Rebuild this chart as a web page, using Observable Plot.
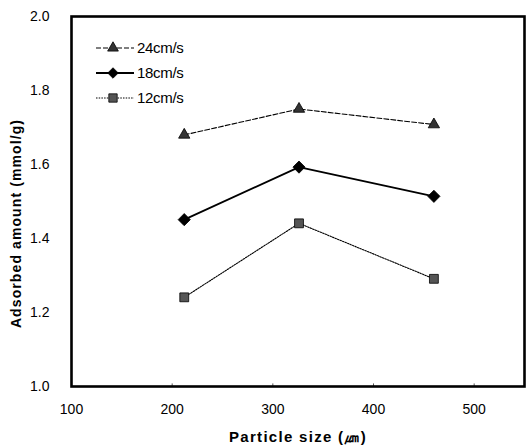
<!DOCTYPE html>
<html>
<head>
<meta charset="utf-8">
<script src="https://cdn.jsdelivr.net/npm/d3@7"></script>
<script src="https://cdn.jsdelivr.net/npm/@observablehq/plot@0.6"></script>
<style>
  html, body { margin: 0; padding: 0; background: #fff; }
  #wrap { position: relative; width: 528px; height: 447px; font-family: "Liberation Sans", Arial, sans-serif; }
  #legend { position: absolute; left: 0; top: 0; }
</style>
</head>
<body>
<div id="wrap"></div>
<script>
const particleSize = [212, 326, 460];
const series = ["24cm/s", "18cm/s", "12cm/s"];
const v24 = [1.68, 1.75, 1.708];
const v18 = [1.451, 1.593, 1.514];
const v12 = [1.241, 1.441, 1.291];
const xTicks = [100, 200, 300, 400, 500];
const yTicks = [1.0, 1.2, 1.4, 1.6, 1.8, 2.0];

const values = {"24cm/s": v24, "18cm/s": v18, "12cm/s": v12};
const data = series.flatMap(s => particleSize.map((x, i) => ({series: s, x, y: values[s][i]})));

const style = {
  "24cm/s": {dash: "5,2", width: 1.1, symbol: "triangle", r: 4.2, fill: "#333", d3sym: d3.symbolTriangle, area: 50},
  "18cm/s": {dash: null, width: 1.8, symbol: "diamond2", r: 5.5, fill: "#000", d3sym: d3.symbolDiamond2, area: 70},
  "12cm/s": {dash: "1.5,1.2", width: 1.1, symbol: "square", r: 5, fill: "#555", d3sym: d3.symbolSquare, area: 70}
};

const marks = [];
for (const s of series) {
  const d = data.filter(e => e.series === s);
  const st = style[s];
  marks.push(Plot.line(d, {x: "x", y: "y", stroke: "#000", strokeWidth: st.width, strokeDasharray: st.dash}));
  marks.push(Plot.dot(d, {x: "x", y: "y", symbol: st.symbol, r: st.r, fill: st.fill, stroke: "#000", strokeWidth: 0.8}));
}

const chart = Plot.plot({
  width: 528,
  height: 447,
  marginLeft: 71,
  marginTop: 16,
  marginRight: 4,
  marginBottom: 61,
  style: {fontFamily: "'Liberation Sans', Arial, sans-serif", fontSize: "14px", color: "#000", background: "#fff"},
  x: {domain: [100, 550], ticks: xTicks, tickFormat: d3.format("d"), tickSize: 0, tickPadding: 18, label: null},
  y: {domain: [1.0, 2.0], ticks: yTicks, tickFormat: d3.format(".1f"), tickSize: 0, tickPadding: 22, label: null},
  marks: [
    Plot.axisX({ticks: xTicks, tickFormat: d3.format("d"), tickSize: 0, tickPadding: 18, fontSize: 14, label: null}),
    Plot.axisY({ticks: yTicks, tickFormat: d3.format(".1f"), tickSize: 0, tickPadding: 22, fontSize: 14, label: null}),
    Plot.ruleX(xTicks.filter(t => t > 100), {x: d => d, y1: 1.0, y2: 1.007, stroke: "#555", strokeWidth: 1}),
    ...marks,
    Plot.frame({stroke: "#000", strokeWidth: 2.6}),
    Plot.text(["Particle size (㎛)"], {frameAnchor: "bottom", dy: 51, fontSize: 15, fontWeight: "bold", fill: "#000", lineAnchor: "middle"}),
    Plot.text(["Adsorbed amount (mmol/g)"], {frameAnchor: "left", textAnchor: "middle", rotate: -90, fontSize: 14, fontWeight: "bold", fill: "#000", lineAnchor: "middle"})
  ]
});
const wrap = document.getElementById("wrap");
wrap.appendChild(chart);
chart.querySelectorAll("text").forEach(t => {
  if (t.textContent.startsWith("Adsorbed")) {
    t.setAttribute("letter-spacing", "1.1");
    t.setAttribute("text-anchor", "middle");
    t.setAttribute("transform", "translate(20,223) rotate(-90)");
    t.removeAttribute("x"); t.removeAttribute("y");
  }
  if (t.textContent.startsWith("Particle")) t.setAttribute("letter-spacing", "1.3");
});

// Legend overlay
const ns = "http://www.w3.org/2000/svg";
const lg = document.createElementNS(ns, "svg");
lg.setAttribute("id", "legend");
lg.setAttribute("width", 528);
lg.setAttribute("height", 120);
const rowY = [48, 73, 98];
series.forEach((s, i) => {
  const st = style[s];
  const y = rowY[i];
  const line = document.createElementNS(ns, "line");
  line.setAttribute("x1", 96); line.setAttribute("x2", 134);
  line.setAttribute("y1", y); line.setAttribute("y2", y);
  line.setAttribute("stroke", "#000");
  line.setAttribute("stroke-width", st.width);
  if (st.dash) line.setAttribute("stroke-dasharray", st.dash);
  lg.appendChild(line);
  const p = document.createElementNS(ns, "path");
  p.setAttribute("d", d3.symbol(st.d3sym, st.area)());
  p.setAttribute("transform", `translate(113,${y})`);
  p.setAttribute("fill", st.fill);
  p.setAttribute("stroke", "#000");
  p.setAttribute("stroke-width", 0.8);
  lg.appendChild(p);
  const t = document.createElementNS(ns, "text");
  t.setAttribute("x", 137); t.setAttribute("y", y);
  t.setAttribute("dy", "0.35em");
  t.setAttribute("font-size", 15);
  t.setAttribute("font-family", "'Liberation Sans', Arial, sans-serif");
  t.setAttribute("letter-spacing", "-0.3");
  t.textContent = s;
  lg.appendChild(t);
});
wrap.appendChild(lg);
</script>
</body>
</html>
